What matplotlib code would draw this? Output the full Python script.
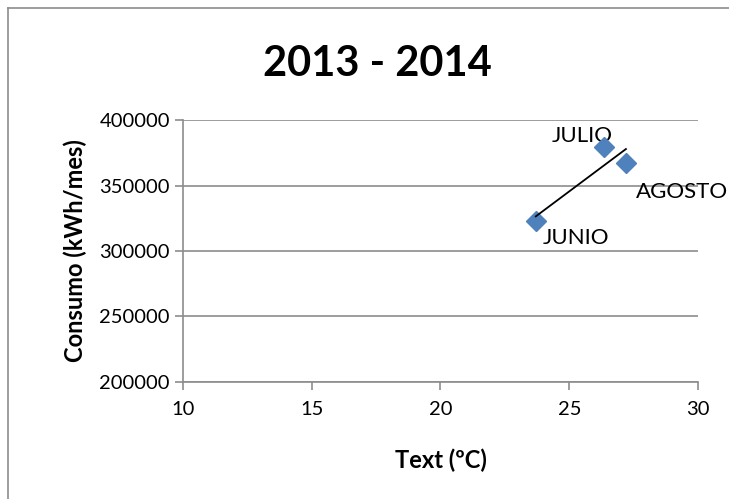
import numpy as np
import matplotlib.pyplot as plt
from matplotlib.lines import Line2D

plt.rcParams['font.family'] = ['Lato', 'DejaVu Sans']

# Temperatura exterior media y consumo mensual (verano 2013 - 2014)
meses = ['JUNIO', 'JULIO', 'AGOSTO']
temp_ext = [23.7, 26.35, 27.2]
consumo = [323000, 379400, 367200]

fig = plt.figure(figsize=(7.29, 4.99), dpi=100)
ax = fig.add_axes([0.251, 0.2345, 0.7065, 0.525])

# marco del gráfico
fig.add_artist(Line2D([8 / 729, 8 / 729], [-0.01, 1 - 8 / 499], color='#8c8c8c', lw=1.2))
fig.add_artist(Line2D([8 / 729, 1.01], [1 - 8 / 499, 1 - 8 / 499], color='#8c8c8c', lw=1.2))

ax.plot(temp_ext, consumo, linestyle='none', marker='D', markersize=10,
        color='#4F81BD', zorder=3)

# línea de tendencia lineal
pend, orig = np.polyfit(temp_ext, consumo, 1)
xt = np.array([min(temp_ext), max(temp_ext)])
ax.plot(xt, pend * xt + orig, color='black', lw=1.3, zorder=4)

offsets = {'JUNIO': (5, -12, 'left'), 'JULIO': (6, 8, 'right'), 'AGOSTO': (7, -21, 'left')}
for m, x, y in zip(meses, temp_ext, consumo):
    dx, dy, ha = offsets[m]
    ax.annotate(m, (x, y), xytext=(dx, dy), textcoords='offset points',
                ha=ha, va='center', fontsize=16, zorder=2.5, annotation_clip=False)

ax.set_xlim(10, 30)
ax.set_ylim(200000, 400000)
ax.set_xticks([10, 15, 20, 25, 30])
ax.set_yticks([200000, 250000, 300000, 350000, 400000])
ax.grid(axis='y', color='#8c8c8c', lw=1.2)
ax.set_axisbelow(True)
for s in ['top', 'right']:
    ax.spines[s].set_visible(False)
for s in ['left', 'bottom']:
    ax.spines[s].set_color('#8c8c8c')
    ax.spines[s].set_linewidth(1.2)
ax.tick_params(colors='#8c8c8c', labelcolor='black', labelsize=14.5, length=6, width=1.2)
ax.tick_params(axis='x', pad=8)

ax.set_xlabel('Text (ºC)', fontsize=17, fontweight='bold', labelpad=22)
ax.set_ylabel('Consumo (kWh/mes)', fontsize=17, fontweight='bold', labelpad=9)
fig.text(0.518, 0.872, '2013 - 2014', ha='center', va='center', fontsize=30, fontweight='bold')

fig.savefig('out.png', dpi=100)
